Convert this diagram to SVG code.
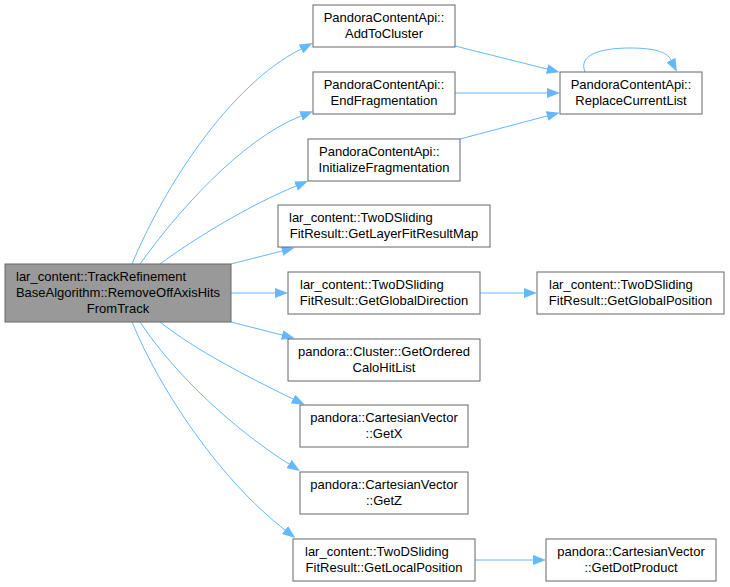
<svg xmlns="http://www.w3.org/2000/svg" width="730" height="587" viewBox="0 0 730 587">
<style>
.n rect{fill:#ffffff;stroke:#666666;stroke-width:1}
.m rect{fill:#999999;stroke:#666666;stroke-width:1}
text{font-family:"Liberation Sans",Arial,sans-serif;font-size:13px;fill:#000000}
.c{text-anchor:middle}
.e path{fill:none;stroke:#63b8ff;stroke-width:1}
</style>
<defs>
<marker id="ah" viewBox="0 0 13 10" refX="0" refY="5" markerWidth="13" markerHeight="10" markerUnits="userSpaceOnUse" orient="auto">
<path d="M0,0 L13,5 L0,10 z" fill="#63b8ff"/>
</marker>
</defs>
<rect width="730" height="587" fill="#ffffff"/>
<g id="edges" class="e">
<path d="M132,264 C165,185 230,85 301,49" marker-end="url(#ah)"/>
<path d="M140,264 C175,215 240,140 301,116" marker-end="url(#ah)"/>
<path d="M160,264 C195,238 250,205 296,186" marker-end="url(#ah)"/>
<path d="M231,264 L282,251" marker-end="url(#ah)"/>
<path d="M231,293 L275,293" marker-end="url(#ah)"/>
<path d="M231,322 L282,335" marker-end="url(#ah)"/>
<path d="M160,322 C195,350 250,378 293,399" marker-end="url(#ah)"/>
<path d="M140,322 C175,375 235,430 289,464" marker-end="url(#ah)"/>
<path d="M132,322 C160,390 220,480 285,530" marker-end="url(#ah)"/>
<path d="M455,46 L547,69" marker-end="url(#ah)"/>
<path d="M455,93 L547,93" marker-end="url(#ah)"/>
<path d="M460,139 L547,116" marker-end="url(#ah)"/>
<path d="M585,72 C578,55 600,48 630,48 C655,48 667,52 671,60" marker-end="url(#ah)"/>
<path d="M480,293 L524,293" marker-end="url(#ah)"/>
<path d="M475,560 L533,560" marker-end="url(#ah)"/>
</g>
<g id="main" class="m">
<rect x="5" y="264" width="226" height="58"/>
<text x="16" y="281">lar_content::TrackRefinement</text>
<text class="c" x="118" y="297">BaseAlgorithm::RemoveOffAxisHits</text>
<text class="c" x="118" y="313">FromTrack</text>
</g>
<g id="addToCluster" class="n">
<rect x="313" y="5" width="142" height="42"/>
<text class="c" x="384" y="22">PandoraContentApi::</text>
<text class="c" x="384" y="38">AddToCluster</text>
</g>
<g id="endFragmentation" class="n">
<rect x="313" y="72" width="142" height="42"/>
<text class="c" x="384" y="89">PandoraContentApi::</text>
<text class="c" x="384" y="105">EndFragmentation</text>
</g>
<g id="initializeFragmentation" class="n">
<rect x="308" y="139" width="152" height="42"/>
<text x="319" y="156">PandoraContentApi::</text>
<text class="c" x="384" y="172">InitializeFragmentation</text>
</g>
<g id="replaceCurrentList" class="n">
<rect x="560" y="72" width="142" height="42"/>
<text class="c" x="631" y="89">PandoraContentApi::</text>
<text class="c" x="631" y="105">ReplaceCurrentList</text>
</g>
<g id="getLayerFitResultMap" class="n">
<rect x="278" y="205" width="212" height="42"/>
<text x="289" y="222">lar_content::TwoDSliding</text>
<text class="c" x="384" y="238">FitResult::GetLayerFitResultMap</text>
</g>
<g id="getGlobalDirection" class="n">
<rect x="288" y="272" width="192" height="42"/>
<text x="300" y="289">lar_content::TwoDSliding</text>
<text class="c" x="384" y="305">FitResult::GetGlobalDirection</text>
</g>
<g id="getGlobalPosition" class="n">
<rect x="537" y="272" width="187" height="42"/>
<text x="549" y="289">lar_content::TwoDSliding</text>
<text class="c" x="630.5" y="305">FitResult::GetGlobalPosition</text>
</g>
<g id="getOrderedCaloHitList" class="n">
<rect x="288" y="339" width="192" height="42"/>
<text class="c" x="384" y="356">pandora::Cluster::GetOrdered</text>
<text class="c" x="384" y="372">CaloHitList</text>
</g>
<g id="getX" class="n">
<rect x="300" y="405" width="168" height="42"/>
<text class="c" x="384" y="422">pandora::CartesianVector</text>
<text class="c" x="384" y="438">::GetX</text>
</g>
<g id="getZ" class="n">
<rect x="300" y="472" width="168" height="42"/>
<text class="c" x="384" y="489">pandora::CartesianVector</text>
<text class="c" x="384" y="505">::GetZ</text>
</g>
<g id="getLocalPosition" class="n">
<rect x="293" y="539" width="182" height="42"/>
<text x="305" y="556">lar_content::TwoDSliding</text>
<text class="c" x="384" y="572">FitResult::GetLocalPosition</text>
</g>
<g id="getDotProduct" class="n">
<rect x="546" y="539" width="170" height="42"/>
<text class="c" x="631" y="556">pandora::CartesianVector</text>
<text class="c" x="631" y="572">::GetDotProduct</text>
</g>
</svg>
